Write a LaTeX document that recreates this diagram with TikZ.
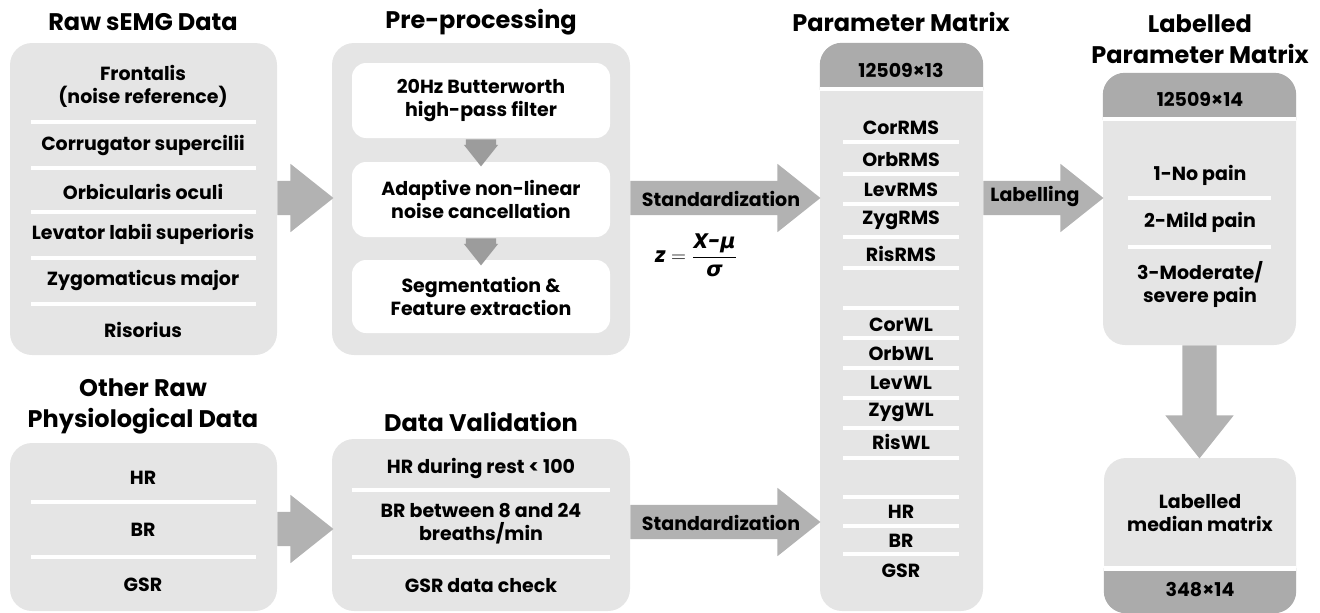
\documentclass[tikz,border=0pt]{standalone}
\usepackage{fontspec}
\usepackage{amsmath}
\setmainfont{Poppins}
\newfontfamily\greekfont{DejaVu Sans}
\usetikzlibrary{shapes.arrows,fit}

\definecolor{panelgray}{HTML}{E5E5E5}
\definecolor{headgray}{HTML}{ABABAB}
\definecolor{arrowgray}{HTML}{B2B2B2}
\definecolor{stepgray}{HTML}{9C9C9C}

\tikzset{
  panel/.style={fill=panelgray, rounded corners=22pt, inner sep=0pt},
  stepbox/.style={fill=white, rounded corners=14pt, inner sep=0pt},
  title/.style={font=\fontsize{24}{31}\selectfont\bfseries, align=center, inner sep=0pt},
  item/.style={font=\fontsize{19}{23}\selectfont\bfseries, align=center, inner sep=0pt},
  sep/.style={white, line width=4pt},
  fatarrow/.style={single arrow, fill=arrowgray, inner sep=17pt, anchor=tail,
    single arrow tip angle=77, single arrow head extend=17pt},
  steparrow/.style={single arrow, fill=stepgray, inner xsep=15pt, inner ysep=0pt,
    anchor=tail, shape border rotate=270, single arrow tip angle=77,
    single arrow head extend=2pt, minimum height=27pt},
}

\begin{document}
\begin{tikzpicture}[x=1pt,y=-1pt]
\useasboundingbox (0,0) rectangle (1320,613);

% panels
\node[panel, fit={(10,43) (277,355)}] (raw) {};
\node[panel, fit={(332,43) (630,355)}] (pre) {};
\node[panel, fit={(10,443) (277,611)}] (other) {};
\node[panel, fit={(332,439) (630,611)}] (val) {};
\node[panel, fit={(820,43) (983,611)}] (pm) {};
\node[panel, fit={(1103,73) (1296,345)}] (lpm) {};
\node[panel, fit={(1104,458) (1296,613)}] (med) {};

% dark header / footer bands
\begin{scope}
  \clip (800,30) rectangle (1000,89);
  \fill[headgray, rounded corners=22pt] (pm.north west) rectangle (pm.south east);
\end{scope}
\fill[white] (820,87) rectangle (983,91);
\begin{scope}
  \clip (1090,60) rectangle (1310,119);
  \fill[headgray, rounded corners=22pt] (lpm.north west) rectangle (lpm.south east);
\end{scope}
\fill[white] (1103,117) rectangle (1296,121);
\begin{scope}
  \clip (1090,568) rectangle (1310,620);
  \fill[headgray, rounded corners=22pt] (med.north west) rectangle (med.south east);
\end{scope}
\fill[white] (1104,566) rectangle (1296,571);

% titles
\node[title] (tRaw) at (143,22) {Raw sEMG Data};
\node[title] (tPre) at (481,22) {Pre-processing};
\node[title] (tPm) at (901,22) {Parameter Matrix};
\node[title] (tLpm) at (1200,39) {Labelled\\Parameter Matrix};
\node[title] (tOther) at (143,406) {Other Raw\\Physiological Data};
\node[title] (tVal) at (481,422) {Data Validation};

% raw sEMG data
\node[item] (frontalis) at (143,86) {Frontalis\\(noise reference)};
\node[item] (corr) at (143,146) {Corrugator supercilii};
\node[item] (orb) at (143,192) {Orbicularis oculi};
\node[item] (lev) at (143,234) {Levator labii superioris};
\node[item] (zyg) at (143,280) {Zygomaticus major};
\node[item] (ris) at (143,330) {Risorius};
\foreach \y in {122,168,212,258,304}
  \draw[sep] (31,\y) -- (256,\y);

% pre-processing steps
\node[stepbox, fit={(352,63) (610,138)}] (filt) {};
\node[stepbox, fit={(352,162) (610,237)}] (anc) {};
\node[stepbox, fit={(352,260) (610,333)}] (seg) {};
\node[item] (filtTxt) at (filt) {20Hz Butterworth\\high-pass filter};
\node[item] (ancTxt) at (anc) {Adaptive non-linear\\noise cancellation};
\node[item] (segTxt) at (seg) {Segmentation \&\\Feature extraction};
\node[steparrow] (sa1) at ([yshift=-1pt]filt.south) {};
\node[steparrow] (sa2) at ([yshift=-1pt]anc.south) {};

% other physiological data
\node[item] (hr) at (143,478) {HR};
\node[item] (br) at (143,530) {BR};
\node[item] (gsr) at (143,585) {GSR};
\foreach \y in {502,557}
  \draw[sep] (31,\y) -- (256,\y);

% data validation
\node[item] (hrChk) at (481,468) {HR during rest < 100};
\node[item] (brChk) at (481,524) {BR between 8 and 24\\breaths/min};
\node[item] (gsrChk) at (481,586) {GSR data check};
\foreach \y in {490,557}
  \draw[sep] (352,\y) -- (610,\y);

% parameter matrix
\node[item] (pmDim) at (901,70) {12509×13};
\foreach \n/\y in {CorRMS/128,OrbRMS/160,LevRMS/190,ZygRMS/220,RisRMS/254,
                   CorWL/325,OrbWL/354,LevWL/383,ZygWL/412,RisWL/442,
                   HR/512,BR/541,GSR/571}
  \node[item] (pm\n) at (901,\y) {\n};
\foreach \y in {142,174,204,237,268,308,338,368,398,428,458,497,526,554}
  \draw[sep] (843,\y) -- (959,\y);

% labelled parameter matrix
\node[item] (lpmDim) at (1200,99) {12509×14};
\node[item] (noPain) at (1200,175) {1-No pain};
\node[item] (mild) at (1200,222) {2-Mild pain};
\node[item] (severe) at (1200,284) {3-Moderate/\\severe pain};
\foreach \y in {198,247}
  \draw[sep] (1128,\y) -- (1271,\y);

% labelled median matrix
\node[item] (medTxt) at (1200,513) {Labelled\\median matrix};
\node[item] (medDim) at (1200,590) {348×14};

% block arrows
\node[fatarrow, minimum height=55pt] (a1) at (raw.east |- 0,198) {};
\node[fatarrow, minimum height=55pt] (a2) at (other.east |- 0,529) {};
\node[fatarrow, minimum height=190pt] (a3) at (pre.east |- 0,198) {};
\node[fatarrow, minimum height=190pt] (a4) at (val.east |- 0,522) {};
\node[fatarrow, minimum height=120pt] (a5) at (pm.east |- 0,198) {};
\node[fatarrow, shape border rotate=270, minimum height=113pt] (a6) at (lpm.south) {};
\node[item] (std1) at (721,199) {Standardization};
\node[item] (std2) at (721,523) {Standardization};
\node[item] (lab) at (1035,197) {Labelling};
\node[item, font=\fontsize{21}{24}\selectfont\bfseries] (zform) at (696,255)
  {$\text{\itshape z}=\dfrac{\text{\itshape X-}\text{\greekfont\bfseries\itshape μ}}{\text{\greekfont\bfseries\itshape σ}}$};
\end{tikzpicture}
\end{document}
